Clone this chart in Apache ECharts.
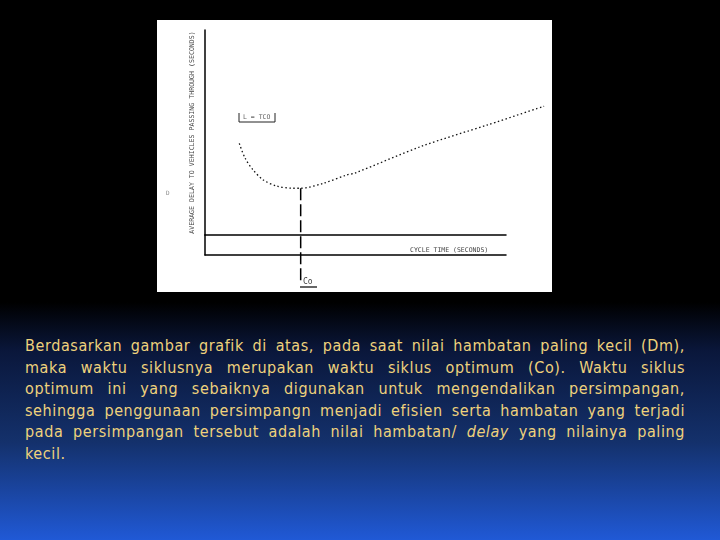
<!DOCTYPE html>
<html>
<head>
<meta charset="utf-8">
<script src="https://cdn.jsdelivr.net/npm/echarts@6/dist/echarts.min.js"></script>
<style>
  html, body { margin:0; padding:0; }
  body {
    width:720px; height:540px; overflow:hidden; position:relative;
    background: linear-gradient(to bottom, #000000 0%, #000000 56%, #0a173b 65%, #14316c 82%, #2059d6 100%);
  }
  #chart { position:absolute; left:157px; top:20px; width:395px; height:272px; background:#ffffff; }
  #para {
    position:absolute; left:25px; top:335px; width:660px;
    font-family: "DejaVu Sans Condensed", "DejaVu Sans", sans-serif; font-stretch: condensed;
    font-size:16px; line-height:21.5px; color:#EFD27C; letter-spacing:0.6px;
  }
  #para div { text-align:justify; text-align-last:justify; white-space:nowrap; }
  #para div.last { text-align-last:left; }
</style>
</head>
<body>
<div id="chart"></div>
<div id="para"></div>
<script>
// ---- data (arbitrary units) ----
const cycleTime = [11.4, 13.3, 16.0, 19.4, 23.8, 29.3, 31.8, 39.3, 47.1, 49.8, 72.0, 94.1, 112.7];
const avgDelay  = [44.7, 37.6, 31.7, 26.8, 23.9, 22.8, 22.8, 25.2, 29.3, 30.2, 43.3, 53.8, 62.8];
const optimumCycle = [31.8];
const optimumDelayRange = [22.8, -22.4];
const xAxisRange = [0, 115];
const yAxisRange = [0, 100];
const yAxisTitle = 'AVERAGE DELAY TO VEHICLES PASSING THROUGH (SECONDS)';
const xAxisTitle = 'CYCLE TIME (SECONDS)';
const optimumLabel = 'Co';
const boxLabel = 'L = TCO';
const paragraphLines = [
  'Berdasarkan gambar grafik di atas, pada saat nilai hambatan paling kecil (Dm),',
  'maka waktu siklusnya merupakan waktu siklus optimum (Co). Waktu siklus',
  'optimum ini yang sebaiknya digunakan untuk mengendalikan persimpangan,',
  'sehingga penggunaan persimpangn menjadi efisien serta hambatan yang terjadi',
  'pada persimpangan tersebut adalah nilai hambatan/ <i>delay</i> yang nilainya paling',
  'kecil.'
];

// paragraph
const para = document.getElementById('para');
paragraphLines.forEach((t, i) => {
  const d = document.createElement('div');
  d.innerHTML = t;
  if (i === paragraphLines.length - 1) d.className = 'last';
  para.appendChild(d);
});

const curveData = cycleTime.map((x, i) => [x, avgDelay[i]]);
const dashData = optimumDelayRange.map(y => [optimumCycle[0], y]);

const axisLine = { show: true, onZero: false, lineStyle: { color: '#000', width: 1.5 } };
const hidden = { axisTick: { show: false }, axisLabel: { show: false }, splitLine: { show: false } };
const chart = echarts.init(document.getElementById('chart'), null, { renderer: 'canvas' });
const monoFont = '"DejaVu Sans Mono", "Liberation Mono", monospace';

chart.setOption({
  animation: false,
  grid: [
    { left: 48, top: 10, width: 346, height: 205 },
    { left: 48, top: 215, width: 301, height: 20 }
  ],
  xAxis: [
    Object.assign({ gridIndex: 0, type: 'value', min: xAxisRange[0], max: xAxisRange[1], axisLine: { show: false } }, hidden),
    Object.assign({ gridIndex: 1, type: 'value', min: 0, max: 1, position: 'bottom', axisLine: axisLine }, hidden),
    Object.assign({ gridIndex: 1, type: 'value', min: 0, max: 1, position: 'top', axisLine: axisLine }, hidden)
  ],
  yAxis: [
    Object.assign({ gridIndex: 0, type: 'value', min: yAxisRange[0], max: yAxisRange[1], axisLine: axisLine,
      name: yAxisTitle, nameLocation: 'middle', nameRotate: 90, nameGap: 9,
      nameTextStyle: { fontFamily: monoFont, fontSize: 6.6, color: '#444' } }, hidden),
    Object.assign({ gridIndex: 1, type: 'value', min: 0, max: 1, axisLine: axisLine }, hidden)
  ],
  series: [
    { type: 'line', xAxisIndex: 0, yAxisIndex: 0, data: curveData, showSymbol: false,
      smooth: 0.3, clip: false,
      lineStyle: { color: '#111', width: 1.3, type: [1.5, 2.5] } },
    { type: 'line', xAxisIndex: 0, yAxisIndex: 0, data: dashData, showSymbol: false,
      clip: false, z: 3,
      lineStyle: { color: '#000', width: 1.5, type: [12, 4] } }
  ],
  graphic: [
    { type: 'text', left: 253, top: 227,
      style: { text: xAxisTitle, fontFamily: monoFont, fontSize: 6.5, fill: '#444' } },
    { type: 'text', left: 146, top: 258,
      style: { text: optimumLabel, fontFamily: monoFont, fontSize: 8, fill: '#444' } },
    { type: 'line', shape: { x1: 143, y1: 267, x2: 160, y2: 267 },
      style: { stroke: '#000', lineWidth: 1.2 } },
    { type: 'text', left: 86, top: 94,
      style: { text: boxLabel, fontFamily: monoFont, fontSize: 6.5, fill: '#666' } },
    { type: 'polyline', shape: { points: [[82, 93], [82, 102], [118, 102], [118, 93]] },
      style: { stroke: '#222', lineWidth: 1, fill: null } },
    { type: 'text', left: 9, top: 170,
      style: { text: 'D', fontFamily: monoFont, fontSize: 6, fill: '#888' } }
  ]
});
</script>
</body>
</html>
